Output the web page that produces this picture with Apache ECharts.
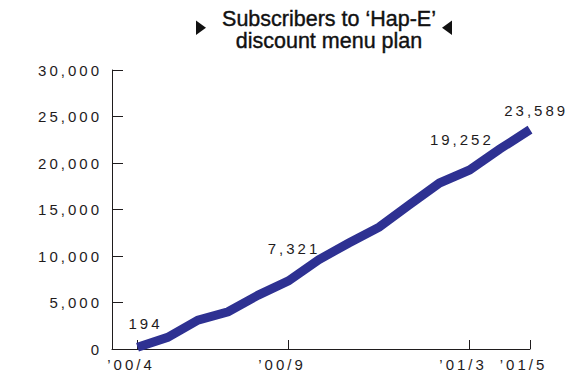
<!DOCTYPE html>
<html>
<head>
<meta charset="utf-8">
<script src="https://cdn.jsdelivr.net/npm/echarts@6/dist/echarts.min.js"></script>
<style>
  html, body { margin: 0; padding: 0; background: #fff; }
  #chart { width: 569px; height: 372px; }
  /* tracked numerals for axis and value labels */
  #chart text[style*="15px"], #chart text[font-size="15"], #chart text[font-size="15px"] { letter-spacing: 3px; }
</style>
</head>
<body>
<div id="chart"></div>
<script>
// Monthly subscriber counts, April 2000 to May 2001
const months = ['’00/4', '’00/5', '’00/6', '’00/7', '’00/8', '’00/9', '’00/10',
                '’00/11', '’00/12', '’01/1', '’01/2', '’01/3', '’01/4', '’01/5'];
const subscribers = [194, 1250, 3100, 4000, 5800, 7321, 9600,
                     11400, 13100, 15500, 17850, 19252, 21500, 23589];
// months that carry an axis label
const labelledMonths = ['’00/4', '’00/9', '’01/3', '’01/5'];
// months whose value is written beside the line
const annotatedMonths = ['’00/4', '’00/9', '’01/3', '’01/5'];
const yTicks = [0, 5000, 10000, 15000, 20000, 25000, 30000];

const INK = '#1f1c1d';
const LINE = '#2e3192';
const NUM_FONT = 'Liberation Sans';

// placement of each value label relative to its point
const valueLabelOffsets = {
  '’00/4': [8, -15.7],
  '’00/9': [5.5, -24.7],
  '’01/3': [-7.8, -22.2],
  '’01/5': [6.2, -10.7]
};

const fmt = v => Number(v).toLocaleString('en-US');
const tickIdx = labelledMonths.map(m => months.indexOf(m));

const seriesData = subscribers.map((v, i) => {
  const m = months[i];
  const item = { value: [i, v] };
  if (annotatedMonths.includes(m)) {
    item.label = { show: true, offset: valueLabelOffsets[m] };
  }
  return item;
});

const chart = echarts.init(document.getElementById('chart'), null, { renderer: 'svg' });
chart.setOption({
  animation: false,
  backgroundColor: '#fff',
  title: {
    text: 'Subscribers to ‘Hap-E’\ndiscount menu plan',
    left: 324,
    top: 2.5,
    textAlign: 'center',
    textStyle: {
      fontFamily: 'Liberation Sans',
      fontSize: 21.5,
      fontWeight: 'normal',
      lineHeight: 22,
      color: '#111',
      textBorderColor: '#111',
      textBorderWidth: 0.4
    }
  },
  graphic: [
    { type: 'polygon', shape: { points: [[196, 20.5], [206, 27.8], [196, 35]] }, style: { fill: '#111' } },
    { type: 'polygon', shape: { points: [[452, 20.5], [442, 27.8], [452, 35]] }, style: { fill: '#111' } }
  ],
  grid: { left: 112, right: 39, top: 70, bottom: 22.5 },
  xAxis: {
    type: 'value',
    min: -0.845,
    max: months.length - 1,
    splitLine: { show: false },
    axisLine: { show: true, onZero: false, lineStyle: { color: INK, width: 1 } },
    axisTick: { show: true, inside: true, length: 9, customValues: tickIdx, lineStyle: { color: INK } },
    axisLabel: {
      customValues: tickIdx,
      formatter: v => months[Math.round(v)],
      margin: 8,
      padding: [0, 13, 0, 0],
      lineHeight: 15,
      fontFamily: NUM_FONT,
      fontSize: 15,
      color: INK
    }
  },
  yAxis: {
    type: 'value',
    min: yTicks[0],
    max: yTicks[yTicks.length - 1],
    interval: yTicks[1] - yTicks[0],
    splitLine: { show: false },
    axisLine: { show: true, onZero: false, lineStyle: { color: INK, width: 1 } },
    axisTick: { show: true, inside: true, length: 11, lineStyle: { color: INK } },
    axisLabel: {
      formatter: fmt,
      margin: 10,
      padding: [0, 0, 9, 0],
      lineHeight: 15,
      verticalAlign: 'middle',
      fontFamily: NUM_FONT,
      fontSize: 15,
      color: INK
    }
  },
  series: [{
    type: 'line',
    data: seriesData,
    showSymbol: true,
    symbol: 'circle',
    symbolSize: 1,
    itemStyle: { color: 'rgba(0,0,0,0)' },
    lineStyle: { color: LINE, width: 9, cap: 'butt', join: 'miter' },
    label: {
      show: false,
      position: 'top',
      distance: 0,
      lineHeight: 15,
      formatter: p => fmt(p.value[1]),
      fontFamily: NUM_FONT,
      fontSize: 15,
      color: INK
    },
    emphasis: { disabled: true }
  }]
});
</script>
</body>
</html>
